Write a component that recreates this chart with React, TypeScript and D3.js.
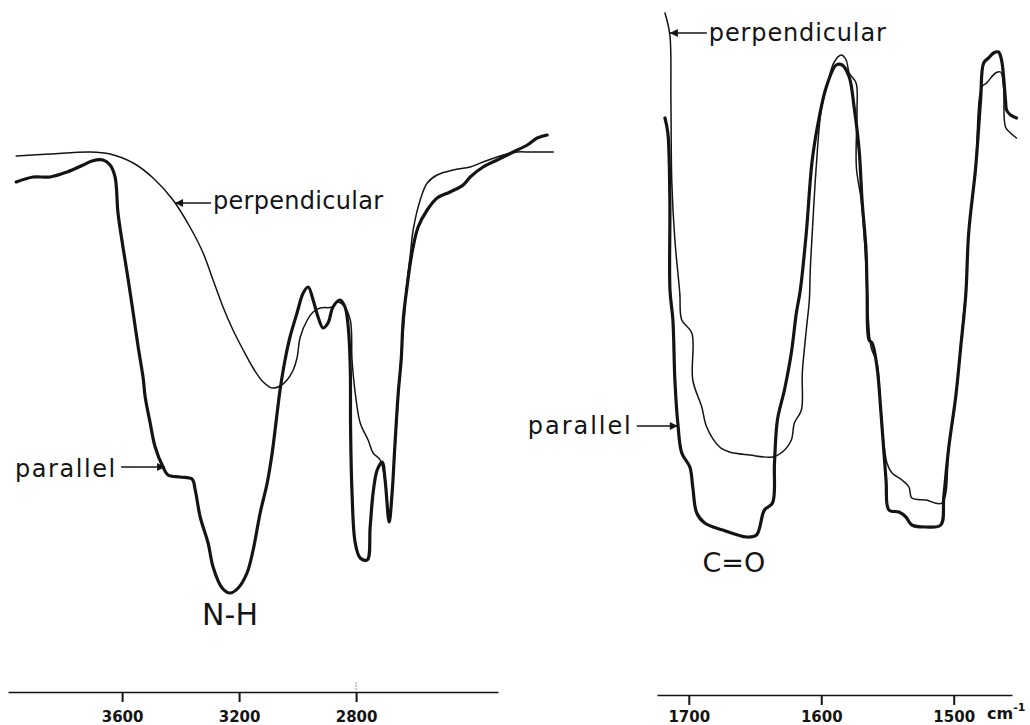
import * as d3 from "d3";
import { useEffect, useRef } from "react";

// [wavenumber cm-1, transmittance (arbitrary %)]
const nhParallel: [number, number][] = [
  [3962, 41.8], [3904, 42.3], [3846, 42.3], [3788, 42.8], [3733, 43.5], [3703, 43.9],
  [3665, 44.0], [3641, 43.5], [3624, 42.3], [3614, 38.7], [3597, 35.3], [3579, 32.0],
  [3562, 28.7], [3545, 25.3], [3528, 22.2], [3521, 20.3], [3504, 17.7], [3487, 15.3],
  [3460, 13.3], [3443, 12.5], [3402, 12.3], [3361, 12.1], [3350, 11.0], [3333, 8.3],
  [3306, 5.7], [3289, 3.3], [3258, 1.2], [3231, 0.7], [3203, 1.2], [3173, 2.7],
  [3152, 5.0], [3128, 8.7], [3104, 11.7], [3087, 14.7], [3070, 18.7], [3060, 21.0],
  [3043, 24.0], [3026, 26.3], [3002, 28.7], [2981, 30.7], [2964, 31.3], [2947, 30.0],
  [2930, 28.3], [2913, 27.2], [2896, 27.7], [2879, 29.3], [2855, 30.0], [2838, 29.3],
  [2827, 27.3], [2820, 23.2], [2819, 17.3], [2814, 10.7], [2803, 5.7], [2786, 4.2],
  [2762, 4.0], [2752, 7.3], [2742, 10.7], [2728, 13.0], [2711, 13.8], [2701, 12.0],
  [2687, 7.8], [2677, 10.7], [2667, 15.7], [2656, 20.7], [2646, 24.0], [2639, 28.0],
  [2626, 31.3], [2609, 34.7], [2588, 37.3], [2557, 39.0], [2523, 40.2], [2479, 40.8],
  [2434, 41.5], [2410, 42.3], [2366, 43.3], [2318, 44.0], [2263, 44.8], [2215, 45.5],
  [2181, 46.2], [2147, 46.5],
];

const nhPerpendicular: [number, number][] = [
  [3962, 44.4], [3846, 44.6], [3709, 44.8], [3641, 44.6], [3562, 43.7], [3494, 42.2],
  [3426, 40.0], [3368, 37.3], [3323, 34.7], [3289, 32.0], [3255, 29.3], [3221, 27.0],
  [3186, 25.0], [3152, 23.2], [3121, 21.9], [3087, 21.2], [3060, 21.4], [3036, 22.0],
  [3015, 23.0], [3002, 24.2], [2991, 26.3], [2967, 28.0], [2947, 28.8], [2923, 29.2],
  [2882, 29.3], [2865, 29.8], [2844, 29.5], [2820, 28.0], [2814, 24.0], [2803, 20.7],
  [2786, 17.7], [2759, 16.0], [2742, 14.7], [2718, 14.0], [2701, 12.0], [2687, 8.0],
  [2677, 10.7], [2663, 17.0], [2650, 23.0], [2636, 28.0], [2629, 31.0], [2615, 34.5],
  [2605, 37.0], [2581, 40.0], [2557, 41.7], [2523, 42.5], [2468, 43.0], [2410, 43.3],
  [2366, 43.8], [2297, 44.5], [2250, 44.8], [2205, 44.8], [2126, 44.8],
];

const coParallel: [number, number][] = [
  [1718.0, 48.2], [1715.8, 46.7], [1714.3, 40.0], [1714.2, 31.0], [1712.0, 28.0],
  [1710.5, 22.0], [1708.3, 17.7], [1705.3, 14.7], [1699.2, 13.3], [1697.0, 11.3],
  [1694.0, 8.7], [1688.0, 7.7], [1674.4, 7.0], [1656.4, 6.3], [1648.9, 6.5],
  [1642.9, 9.0], [1636.8, 9.7], [1635.3, 13.7], [1633.1, 18.0], [1627.8, 21.0],
  [1622.6, 24.7], [1618.8, 28.7], [1615.8, 31.0], [1611.3, 36.7], [1606.8, 44.0],
  [1601.5, 48.3], [1596.2, 51.3], [1588.7, 53.5], [1584.2, 53.5], [1578.9, 52.3],
  [1575.2, 49.3], [1571.4, 45.0], [1569.2, 40.0], [1566.2, 35.0], [1565.4, 31.0],
  [1563.9, 26.0], [1561.6, 25.7], [1557.9, 23.3], [1554.9, 18.7], [1551.1, 12.0],
  [1548.9, 9.0], [1541.3, 8.8], [1536.1, 8.3], [1531.6, 7.5], [1521.0, 7.3],
  [1509.8, 7.5], [1507.5, 10.3], [1503.7, 15.3], [1498.5, 20.3], [1494.7, 25.3],
  [1490.9, 30.5], [1488.7, 36.7], [1483.4, 43.3], [1479.7, 50.0], [1477.4, 53.7],
  [1473.7, 54.2], [1469.9, 54.7], [1466.2, 54.8], [1463.9, 54.0], [1460.9, 50.0],
  [1460.1, 49.0], [1457.1, 48.5], [1452.6, 48.2],
];

const coPerpendicular: [number, number][] = [
  [1718.0, 58.7], [1714.3, 56.5], [1713.5, 50.0], [1712.8, 41.7], [1710.5, 36.0],
  [1706.8, 30.7], [1705.3, 28.0], [1697.7, 26.7], [1697.0, 22.0], [1690.2, 19.3],
  [1686.5, 17.3], [1676.7, 15.3], [1669.2, 14.8], [1654.1, 14.5], [1636.8, 14.3],
  [1629.3, 14.8], [1622.6, 16.0], [1620.3, 17.7], [1615.0, 19.0], [1614.3, 22.7],
  [1611.3, 27.0], [1609.0, 30.0], [1608.3, 33.0], [1606.8, 36.7], [1603.8, 43.3],
  [1600.0, 49.0], [1595.5, 51.5], [1590.2, 53.8], [1584.9, 54.5], [1581.2, 54.0],
  [1578.9, 52.7], [1573.7, 51.7], [1573.0, 49.0], [1573.5, 43.3], [1569.9, 40.0],
  [1566.9, 35.0], [1565.4, 31.0], [1562.4, 25.3], [1557.9, 23.7], [1554.9, 18.7],
  [1550.4, 13.7], [1546.6, 12.7], [1539.1, 12.0], [1533.8, 11.3], [1531.6, 10.2],
  [1521.0, 10.0], [1509.0, 9.7], [1503.7, 15.3], [1498.5, 20.3], [1492.5, 28.7],
  [1490.2, 32.0], [1488.7, 36.7], [1483.4, 43.3], [1478.9, 51.3], [1475.2, 51.7],
  [1468.4, 52.7], [1464.6, 52.8], [1462.4, 51.3], [1460.9, 47.3], [1457.1, 46.7],
  [1452.6, 46.2],
];

const nhTicks = [3600, 3200, 2800];
const coTicks = [1700, 1600, 1500];

const FONT = "DejaVu Sans";

export default function App() {
  const svgRef = useRef<SVGSVGElement>(null);

  useEffect(() => {
    if (!svgRef.current) return;
    const svg = d3.select(svgRef.current);
    svg.selectAll("*").remove();

    const ink = "#141414";

    const y = d3.scaleLinear().domain([0, 60]).range([600, 0]);
    const xL = d3.scaleLinear().domain([3990, 2315]).range([8, 498]);
    const xR = d3.scaleLinear().domain([1724, 1456]).range([657, 1012]);

    svg
      .append("defs")
      .append("marker")
      .attr("id", "arrow")
      .attr("viewBox", "0 0 10 10")
      .attr("refX", 10)
      .attr("refY", 5)
      .attr("markerWidth", 10)
      .attr("markerHeight", 8)
      .attr("markerUnits", "userSpaceOnUse")
      .attr("orient", "auto")
      .append("path")
      .attr("d", "M0,0 L10,5 L0,10 Z")
      .attr("fill", ink);

    const drawLine = (
      data: [number, number][],
      x: d3.ScaleLinear<number, number>,
      width: number
    ) => {
      const line = d3
        .line<[number, number]>()
        .x((d) => x(d[0]))
        .y((d) => y(d[1]))
        .curve(d3.curveCatmullRom.alpha(0.5));
      svg
        .append("path")
        .datum(data)
        .attr("d", line)
        .attr("fill", "none")
        .attr("stroke", ink)
        .attr("stroke-width", width)
        .attr("stroke-linejoin", "round")
        .attr("stroke-linecap", "round");
    };

    drawLine(nhPerpendicular, xL, 1.5);
    drawLine(nhParallel, xL, 3.2);
    drawLine(coPerpendicular, xR, 1.5);
    drawLine(coParallel, xR, 3.2);

    // Axes
    const styleAxis = (g: d3.Selection<SVGGElement, unknown, null, undefined>) => {
      g.select(".domain").attr("stroke", ink).attr("stroke-width", 1.6);
      g.selectAll(".tick line").attr("stroke", ink).attr("stroke-width", 2);
      g.selectAll(".tick text")
        .attr("fill", ink)
        .attr("font-family", FONT)
        .attr("font-size", 15)
        .attr("font-weight", "bold");
    };

    svg
      .append("g")
      .attr("transform", "translate(0,692)")
      .call(
        d3.axisBottom(xL).tickValues(nhTicks).tickSize(10).tickPadding(9).tickSizeOuter(0).tickFormat(d3.format("d"))
      )
      .call(styleAxis);

    // faint mark above the 2800 tick
    svg
      .append("line")
      .attr("x1", xL(2800))
      .attr("x2", xL(2800))
      .attr("y1", 682)
      .attr("y2", 690)
      .attr("stroke", "#999")
      .attr("stroke-width", 1)
      .attr("stroke-dasharray", "2,1");

    svg
      .append("g")
      .attr("transform", "translate(0,695)")
      .call(
        d3.axisBottom(xR).tickValues(coTicks).tickSize(10).tickPadding(6).tickSizeOuter(0).tickFormat(d3.format("d"))
      )
      .call(styleAxis);

    const unit = svg
      .append("text")
      .attr("x", 987)
      .attr("y", 719)
      .attr("fill", ink)
      .attr("font-family", FONT)
      .attr("font-size", 16)
      .attr("font-weight", "bold")
      .text("cm");
    unit
      .append("tspan")
      .attr("font-size", 11)
      .attr("dy", -8)
      .text("-1");

    // Annotations anchored to the curves
    const arrowLabel = (
      tipX: number,
      tipY: number,
      side: "left" | "right",
      text: string,
      len: number,
      textLen: number,
      dy: number
    ) => {
      const start = side === "right" ? tipX + len : tipX - len;
      svg
        .append("line")
        .attr("x1", start)
        .attr("x2", tipX)
        .attr("y1", tipY)
        .attr("y2", tipY)
        .attr("stroke", ink)
        .attr("stroke-width", 1.6)
        .attr("marker-end", "url(#arrow)");
      svg
        .append("text")
        .attr("x", side === "right" ? start + 2 : start - 6)
        .attr("y", tipY + dy)
        .attr("text-anchor", side === "right" ? "start" : "end")
        .attr("fill", ink)
        .attr("font-family", FONT)
        .attr("font-size", 24)
        .attr("textLength", textLen)
        .attr("lengthAdjust", "spacing")
        .text(text);
    };

    arrowLabel(xL(3419), y(39.7), "right", "perpendicular", 36, 170, 6);
    arrowLabel(xL(3453), y(13.3), "left", "parallel", 44, 100, 10);
    arrowLabel(xR(1714.3), y(56.7), "right", "perpendicular", 37, 177, 8);
    arrowLabel(xR(1708.3), y(17.4), "left", "parallel", 41, 103, 8);

    svg
      .append("text")
      .attr("x", xL(3231))
      .attr("y", y(0.7) + 32)
      .attr("text-anchor", "middle")
      .attr("fill", ink)
      .attr("font-family", FONT)
      .attr("font-size", 30)
      .text("N-H");

    svg
      .append("text")
      .attr("x", xR(1666))
      .attr("y", y(6.3) + 35)
      .attr("text-anchor", "middle")
      .attr("fill", ink)
      .attr("font-family", FONT)
      .attr("font-size", 27)
      .text("C=O");
  }, []);

  return (
    <svg
      ref={svgRef}
      width={1030}
      height={725}
      style={{ position: "absolute", left: 0, top: 0, background: "#fff" }}
    />
  );
}
